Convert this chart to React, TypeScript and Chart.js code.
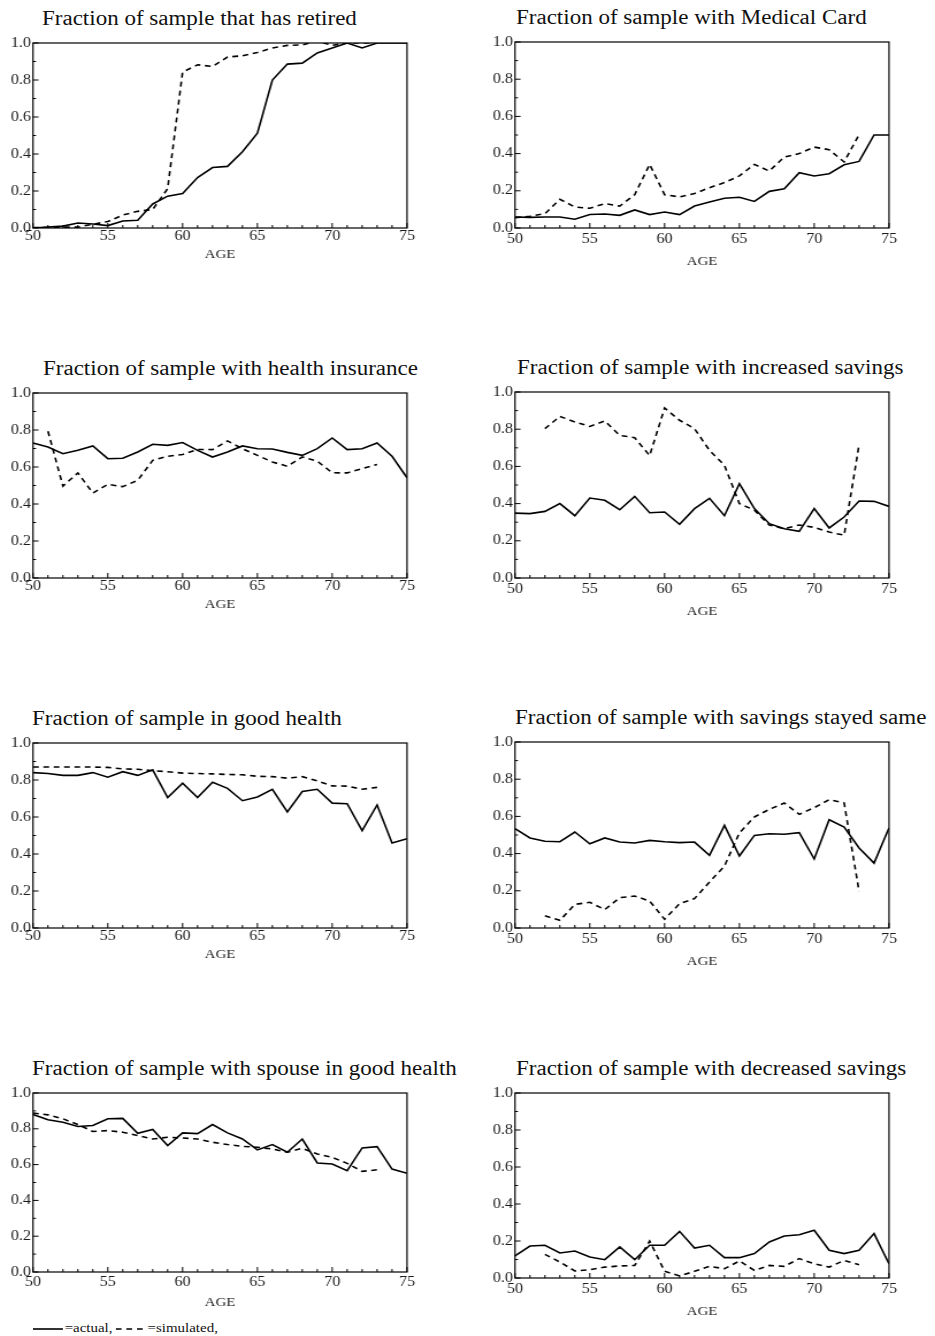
import React, { useEffect, useRef } from "react";
import { Chart, registerables } from "chart.js";

Chart.register(...registerables);

// ---------------- data ----------------
const ages = [50, 51, 52, 53, 54, 55, 56, 57, 58, 59, 60, 61, 62, 63, 64, 65, 66, 67, 68, 69, 70, 71, 72, 73, 74, 75];
const xTickLabels = [50, 55, 60, 65, 70, 75];
const yTickLabels = [0, 0.2, 0.4, 0.6, 0.8, 1.0];
const xMinorTicks = ages;
const yMinorTicks = [0, 0.1, 0.2, 0.3, 0.4, 0.5, 0.6, 0.7, 0.8, 0.9, 1.0];

const retiredActual = [0.0, 0.005, 0.01, 0.027, 0.022, 0.013, 0.038, 0.042, 0.13, 0.172, 0.186, 0.273, 0.327, 0.333, 0.412, 0.512, 0.80, 0.886, 0.891, 0.946, 0.973, 1.0, 0.973, 1.0, 1.0, 1.0];
const retiredSim = [0.002, 0.003, 0.005, 0.005, 0.02, 0.035, 0.07, 0.09, 0.1, 0.213, 0.843, 0.882, 0.873, 0.924, 0.931, 0.949, 0.973, 0.987, 0.99, 1.01, 0.987, 1.0, 1.0, 1.0, null, null];

const medicalActual = [0.059, 0.057, 0.059, 0.059, 0.047, 0.073, 0.075, 0.068, 0.097, 0.072, 0.086, 0.072, 0.118, 0.14, 0.16, 0.165, 0.143, 0.197, 0.211, 0.297, 0.28, 0.292, 0.34, 0.358, 0.5, 0.5];
const medicalSim = [0.056, 0.063, 0.077, 0.154, 0.113, 0.106, 0.131, 0.118, 0.179, 0.342, 0.179, 0.167, 0.185, 0.217, 0.244, 0.28, 0.342, 0.306, 0.382, 0.4, 0.435, 0.421, 0.355, 0.502, null, null];

const insuranceActual = [0.73, 0.708, 0.672, 0.69, 0.714, 0.645, 0.647, 0.681, 0.723, 0.717, 0.732, 0.69, 0.654, 0.681, 0.714, 0.699, 0.697, 0.679, 0.663, 0.699, 0.757, 0.694, 0.699, 0.73, 0.658, 0.542];
const insuranceSim = [null, 0.793, 0.497, 0.568, 0.459, 0.506, 0.494, 0.528, 0.636, 0.658, 0.668, 0.695, 0.694, 0.741, 0.699, 0.663, 0.627, 0.604, 0.654, 0.631, 0.569, 0.568, 0.591, 0.614, null, null];

const incSavActual = [0.349, 0.346, 0.358, 0.40, 0.335, 0.43, 0.418, 0.367, 0.439, 0.351, 0.355, 0.289, 0.373, 0.428, 0.335, 0.507, 0.373, 0.292, 0.265, 0.251, 0.373, 0.269, 0.328, 0.414, 0.412, 0.385];
const incSavSim = [null, null, 0.803, 0.869, 0.839, 0.815, 0.844, 0.767, 0.754, 0.658, 0.914, 0.848, 0.803, 0.686, 0.606, 0.40, 0.365, 0.285, 0.265, 0.285, 0.272, 0.247, 0.23, 0.717, null, null];

const healthActual = [0.84, 0.835, 0.825, 0.825, 0.84, 0.815, 0.845, 0.825, 0.855, 0.705, 0.783, 0.705, 0.788, 0.755, 0.688, 0.708, 0.75, 0.627, 0.738, 0.75, 0.675, 0.672, 0.526, 0.665, 0.459, 0.483];
const healthSim = [0.87, 0.87, 0.87, 0.87, 0.87, 0.868, 0.86, 0.858, 0.85, 0.845, 0.837, 0.835, 0.833, 0.83, 0.828, 0.82, 0.818, 0.81, 0.818, 0.795, 0.768, 0.767, 0.75, 0.76, null, null];

const sameSavActual = [0.534, 0.484, 0.466, 0.464, 0.516, 0.453, 0.484, 0.462, 0.457, 0.471, 0.464, 0.459, 0.462, 0.391, 0.552, 0.387, 0.498, 0.507, 0.504, 0.513, 0.371, 0.582, 0.543, 0.43, 0.349, 0.538];
const sameSavSim = [null, null, 0.066, 0.041, 0.127, 0.138, 0.099, 0.163, 0.172, 0.145, 0.047, 0.131, 0.158, 0.247, 0.333, 0.511, 0.597, 0.638, 0.672, 0.611, 0.647, 0.69, 0.672, 0.197, null, null];

const spouseActual = [0.88, 0.85, 0.837, 0.813, 0.818, 0.856, 0.858, 0.775, 0.796, 0.706, 0.777, 0.773, 0.824, 0.777, 0.743, 0.682, 0.712, 0.669, 0.743, 0.609, 0.603, 0.566, 0.693, 0.70, 0.575, 0.552];
const spouseSim = [0.888, 0.878, 0.856, 0.824, 0.785, 0.79, 0.781, 0.762, 0.743, 0.753, 0.749, 0.743, 0.725, 0.712, 0.702, 0.697, 0.687, 0.669, 0.691, 0.659, 0.64, 0.607, 0.562, 0.571, null, null];

const decSavActual = [0.119, 0.173, 0.177, 0.135, 0.146, 0.114, 0.099, 0.168, 0.099, 0.177, 0.177, 0.252, 0.162, 0.177, 0.11, 0.11, 0.132, 0.195, 0.227, 0.234, 0.258, 0.15, 0.132, 0.15, 0.24, 0.077];
const decSavSim = [null, null, 0.128, 0.086, 0.038, 0.045, 0.059, 0.065, 0.068, 0.2, 0.036, 0.011, 0.036, 0.063, 0.05, 0.092, 0.041, 0.068, 0.063, 0.105, 0.077, 0.059, 0.095, 0.072, null, null];

const titles = [
  "Fraction of sample that has retired",
  "Fraction of sample with Medical Card",
  "Fraction of sample with health insurance",
  "Fraction of sample with increased savings",
  "Fraction of sample in good health",
  "Fraction of sample with savings stayed same",
  "Fraction of sample with spouse in good health",
  "Fraction of sample with decreased savings",
];

// ---------------- layout ----------------
const FONT = "'Liberation Serif', 'Times New Roman', serif";
const STRETCH = 1.15;
const TICK_SIZE = 14;

type PanelCfg = {
  title: string;
  actual: (number | null)[];
  sim: (number | null)[];
  L: number; R: number; T: number; B: number;
  titleX: number;
  ageOffset: number;
  xLabelPad: number;
};

const LEFT = { L: 33, R: 407, age: 27, pad: 1.5 };
const RIGHT = { L: 515, R: 889, age: 34, pad: 4 };

const panels: PanelCfg[] = [
  { title: titles[0], actual: retiredActual, sim: retiredSim, L: LEFT.L, R: LEFT.R, T: 43, B: 228, titleX: 42, ageOffset: LEFT.age, xLabelPad: LEFT.pad },
  { title: titles[1], actual: medicalActual, sim: medicalSim, L: RIGHT.L, R: RIGHT.R, T: 42, B: 228, titleX: 516, ageOffset: RIGHT.age, xLabelPad: RIGHT.pad },
  { title: titles[2], actual: insuranceActual, sim: insuranceSim, L: LEFT.L, R: LEFT.R, T: 393, B: 578, titleX: 43, ageOffset: LEFT.age, xLabelPad: LEFT.pad },
  { title: titles[3], actual: incSavActual, sim: incSavSim, L: RIGHT.L, R: RIGHT.R, T: 392, B: 578, titleX: 517, ageOffset: RIGHT.age, xLabelPad: RIGHT.pad },
  { title: titles[4], actual: healthActual, sim: healthSim, L: LEFT.L, R: LEFT.R, T: 743, B: 928, titleX: 32, ageOffset: LEFT.age, xLabelPad: LEFT.pad },
  { title: titles[5], actual: sameSavActual, sim: sameSavSim, L: RIGHT.L, R: RIGHT.R, T: 742, B: 928, titleX: 515, ageOffset: RIGHT.age, xLabelPad: RIGHT.pad },
  { title: titles[6], actual: spouseActual, sim: spouseSim, L: LEFT.L, R: LEFT.R, T: 1093, B: 1272, titleX: 32, ageOffset: 31, xLabelPad: 3.5 },
  { title: titles[7], actual: decSavActual, sim: decSavSim, L: RIGHT.L, R: RIGHT.R, T: 1093, B: 1278, titleX: 516, ageOffset: RIGHT.age, xLabelPad: RIGHT.pad },
];

const PAD_L = 40;
const PAD_R = 30;
const PAD_T = 14;
const PAD_B = 48;

function Panel({ cfg }: { cfg: PanelCfg }) {
  const ref = useRef<HTMLCanvasElement | null>(null);
  const PW = cfg.R - cfg.L + PAD_L + PAD_R;
  const CW = Math.round(PW / STRETCH);
  const Sx = PW / CW;
  const PH = cfg.B - cfg.T + PAD_T + PAD_B;

  useEffect(() => {
    if (!ref.current) return;
    const framePlugin = {
      id: "frameTicks",
      afterDraw(chart: any) {
        const { ctx, chartArea, scales } = chart;
        const { left, right, top, bottom } = chartArea;
        const xs = scales.x;
        const ys = scales.y;
        ctx.save();
        ctx.strokeStyle = "#000";
        ctx.lineWidth = 1.2;
        ctx.strokeRect(left, top, right - left, bottom - top);
        ctx.lineWidth = 1;
        ctx.beginPath();
        xMinorTicks.forEach((v) => {
          const px = xs.getPixelForValue(v);
          const len = xTickLabels.includes(v) ? 5 : 3;
          ctx.moveTo(px, bottom);
          ctx.lineTo(px, bottom - len);
        });
        yMinorTicks.forEach((v, k) => {
          const py = ys.getPixelForValue(v);
          const len = (k % 2 === 0 ? 5.5 : 3) / Sx;
          ctx.moveTo(left, py);
          ctx.lineTo(left + len, py);
        });
        ctx.stroke();
        ctx.restore();
      },
    };

    const tickFont = { family: FONT, size: TICK_SIZE, lineHeight: 1 };

    const chart = new Chart(ref.current, {
      type: "line",
      data: {
        datasets: [
          {
            label: "actual",
            data: ages.map((a, i) => ({ x: a, y: cfg.actual[i] })) as any,
            borderColor: "#000",
            borderWidth: 1.6,
            pointRadius: 0,
            tension: 0,
            fill: false,
          },
          {
            label: "simulated",
            data: ages.map((a, i) => ({ x: a, y: cfg.sim[i] })) as any,
            borderColor: "#000",
            borderWidth: 1.6,
            borderDash: [5, 4],
            pointRadius: 0,
            tension: 0,
            fill: false,
          },
        ],
      },
      options: {
        animation: false,
        responsive: false,
        events: [],
        layout: { padding: { left: 0, right: PAD_R / Sx, top: PAD_T, bottom: 0 } },
        plugins: {
          legend: { display: false },
          tooltip: { enabled: false },
          title: { display: false },
        },
        scales: {
          x: {
            type: "linear",
            min: 50,
            max: 75,
            grid: { display: false, drawTicks: false },
            border: { display: false },
            afterBuildTicks: (s: any) => {
              s.ticks = xTickLabels.map((v) => ({ value: v }));
            },
            afterFit: (s: any) => {
              s.height = PAD_B;
            },
            ticks: {
              autoSkip: false,
              maxRotation: 0,
              padding: cfg.xLabelPad,
              color: "#1a1a1a",
              font: tickFont,
              callback: (v: any) => String(v),
            },
            title: {
              display: true,
              text: "AGE",
              color: "#1a1a1a",
              font: { family: FONT, size: 13, lineHeight: 1 },
              padding: { top: 0, bottom: PAD_B - 6.5 - cfg.ageOffset },
            },
          },
          y: {
            type: "linear",
            min: 0,
            max: 1,
            grid: { display: false, drawTicks: false },
            border: { display: false },
            afterBuildTicks: (s: any) => {
              s.ticks = yTickLabels.map((v) => ({ value: v }));
            },
            afterFit: (s: any) => {
              s.width = PAD_L / Sx;
            },
            ticks: {
              autoSkip: false,
              padding: 2 / Sx,
              color: "#1a1a1a",
              font: tickFont,
              callback: (v: any) => Number(v).toFixed(1),
            },
          },
        },
      },
      plugins: [framePlugin],
    } as any);
    return () => chart.destroy();
  }, []);

  return (
    <>
      <div
        style={{
          position: "absolute",
          left: cfg.titleX,
          top: cfg.T - 35,
          fontFamily: FONT,
          fontSize: 20,
          lineHeight: "20px",
          whiteSpace: "nowrap",
          color: "#111",
          transform: `scaleX(${STRETCH})`,
          transformOrigin: "0 0",
        }}
      >
        {cfg.title}
      </div>
      <canvas
        ref={ref}
        width={CW}
        height={PH}
        style={{
          position: "absolute",
          left: cfg.L - PAD_L,
          top: cfg.T - PAD_T,
          width: PW,
          height: PH,
        }}
      />
    </>
  );
}

function Legend() {
  return (
    <div
      style={{
        position: "absolute",
        left: 33,
        top: 1321,
        fontFamily: FONT,
        fontSize: 13,
        lineHeight: "14px",
        whiteSpace: "nowrap",
        color: "#111",
        transform: `scaleX(${STRETCH})`,
        transformOrigin: "0 0",
      }}
    >
      <svg width={26} height={10} style={{ verticalAlign: "middle" }}>
        <line x1={0} y1={5} x2={26} y2={5} stroke="#000" strokeWidth={1.6} />
      </svg>
      <span style={{ marginLeft: 1.5 }}>=actual,</span>
      <svg width={26} height={10} style={{ verticalAlign: "middle", marginLeft: 3 }}>
        <line x1={0} y1={5} x2={26} y2={5} stroke="#000" strokeWidth={1.6} strokeDasharray="5 4.2" />
      </svg>
      <span style={{ marginLeft: 1.5 }}>=simulated,</span>
    </div>
  );
}

export default function App() {
  return (
    <div
      style={{
        position: "absolute",
        left: 0,
        top: 0,
        width: 935,
        height: 1336,
        overflow: "hidden",
        background: "#fff",
      }}
    >
      {panels.map((p, i) => (
        <Panel key={i} cfg={p} />
      ))}
      <Legend />
    </div>
  );
}
